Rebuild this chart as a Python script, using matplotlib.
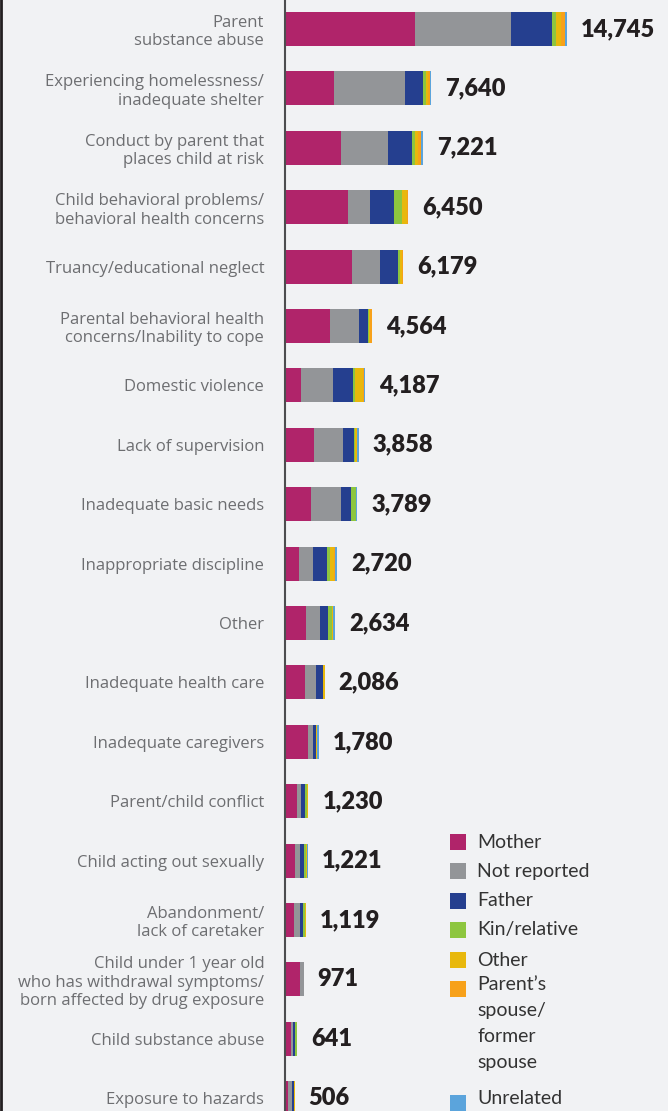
import matplotlib
matplotlib.use("Agg")
import matplotlib.pyplot as plt
from matplotlib.patches import Rectangle
from matplotlib.lines import Line2D

categories = [
    "Parent\nsubstance abuse",
    "Experiencing homelessness/\ninadequate shelter",
    "Conduct by parent that\nplaces child at risk",
    "Child behavioral problems/\nbehavioral health concerns",
    "Truancy/educational neglect",
    "Parental behavioral health\nconcerns/Inability to cope",
    "Domestic violence",
    "Lack of supervision",
    "Inadequate basic needs",
    "Inappropriate discipline",
    "Other",
    "Inadequate health care",
    "Inadequate caregivers",
    "Parent/child conflict",
    "Child acting out sexually",
    "Abandonment/\nlack of caretaker",
    "Child under 1 year old\nwho has withdrawal symptoms/\nborn affected by drug exposure",
    "Child substance abuse",
    "Exposure to hazards",
]

mother       = [6804, 2580, 2950, 3306, 3486, 2358,  848, 1500, 1368,  707, 1096, 1043, 1186, 642, 500, 480, 800, 320, 152]
not_reported = [5025, 3690, 2425, 1138, 1479, 1520, 1643, 1554, 1579,  778,  714,  574,  270, 214, 277, 320, 171, 107, 202]
father       = [2146,  950, 1265, 1247,  951,  472, 1060,  536,  526,  707,  439,  365,  162, 214, 222, 160,   0, 107, 101]
kin          = [ 192,  140,  140,  434,  121,   35,  106,   54,  226,  147,  220,    0,    0, 107, 111,  80,   0, 107,   0]
other        = [ 262,  110,  160,  271,   70,   70,  424,  107,   37,  218,   55,  104,   54,  53,  40,  79,   0,   0,  51]
spouse       = [ 226,  115,  160,   27,   72,  109,   53,    0,    0,   54,    0,    0,    0,   0,   0,   0,   0,   0,   0]
unrelated    = [  87,   55,  121,   27,    0,    0,   53,  107,   53,  109,  110,    0,  108,   0,  71,   0,   0,   0,   0]
totals       = [14745, 7640, 7221, 6450, 6179, 4564, 4187, 3858, 3789, 2720, 2634, 2086, 1780, 1230, 1221, 1119, 971, 641, 506]

series_names = ["Mother", "Not reported", "Father", "Kin/relative", "Other",
                "Parent\u2019s\nspouse/\nformer\nspouse", "Unrelated"]
series_vals = [mother, not_reported, father, kin, other, spouse, unrelated]
colors = ["#b0246a", "#939598", "#253f8f", "#8dc63f", "#e8b80c", "#f7a11a", "#5ba4dc"]

BG = "#f1f2f4"
W, H = 668, 1111
fig = plt.figure(figsize=(W / 100, H / 100), dpi=100, facecolor=BG)
ax = fig.add_axes([285 / W, 0, (W - 285) / W, 1])
ax.set_facecolor(BG)

y = list(range(len(categories)))
left = [0] * len(categories)
for vals, c in zip(series_vals, colors):
    ax.barh(y, vals, left=left, height=0.572, color=c, linewidth=0)
    left = [l + v for l, v in zip(left, vals)]

for i, t in enumerate(totals):
    ax.annotate(f"{t:,}", xy=(left[i], i), xytext=(10, 0), textcoords="offset points",
                va="center", ha="left", fontsize=17, fontweight="heavy",
                family=["Lato", "DejaVu Sans"], color="#231f20")

ax.set_xlim(0, 20047)
ax.set_ylim(18.215, -0.488)
ax.set_yticks(y)
ax.set_yticklabels(categories, fontsize=12, color="#6d6e71", family=["Open Sans", "DejaVu Sans"],
                   linespacing=1.2)
ax.tick_params(axis="y", length=0, pad=15)
ax.set_xticks([])
for s in ["top", "right", "bottom"]:
    ax.spines[s].set_visible(False)
ax.spines["left"].set_color("#4d4d4f")
ax.spines["left"].set_linewidth(1.5)

# legend drawn manually in pixel coordinates
sq = 16
sq_centers = [842, 871, 901, 930, 960, 989, 1103]
txt_centers = [842, 871, 901, 930, 960, 989, 1099]
for name, c, yc, ty in zip(series_names, colors, sq_centers, txt_centers):
    fig.patches.append(Rectangle((450 / W, 1 - (yc + sq / 2) / H), sq / W, sq / H,
                                 transform=fig.transFigure, facecolor=c, edgecolor="none"))
    if "\n" in name:
        fig.text(477 / W, 1 - (ty - 13) / H, name, va="top", ha="left",
                 fontsize=14, color="#333333", family=["Lato", "DejaVu Sans"], linespacing=1.64)
    else:
        fig.text(477 / W, 1 - ty / H, name, va="center", ha="left",
                 fontsize=14, color="#333333", family=["Lato", "DejaVu Sans"])

fig.add_artist(Line2D([1 / W, 1 / W], [0, 1], color="#231f20", lw=2, transform=fig.transFigure))

fig.savefig("out.png", dpi=100, facecolor=BG)
